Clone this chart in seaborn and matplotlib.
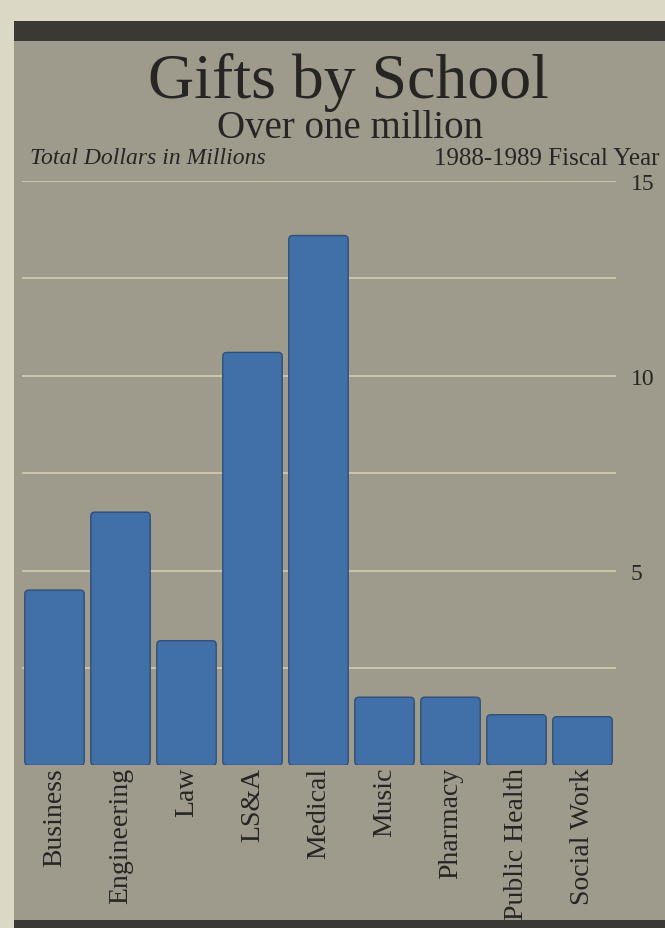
import matplotlib
matplotlib.use("Agg")
import matplotlib.pyplot as plt
from matplotlib.patches import Rectangle, FancyBboxPatch
import seaborn as sns
import pandas as pd

# Gifts over one million dollars, 1988-1989 fiscal year (millions of dollars)
schools = ["Business", "Engineering", "Law", "LS&A", "Medical",
           "Music", "Pharmacy", "Public Health", "Social Work"]
gifts = [4.5, 6.5, 3.2, 10.6, 13.6, 1.75, 1.75, 1.3, 1.25]
labeled_ticks = [5, 10, 15]
grid_steps = [2.5, 7.5, 12.5]

df = pd.DataFrame({"school": schools, "gifts": gifts})

sns.set_theme(style="white")
plt.rcParams["font.family"] = ["Liberation Serif", "DejaVu Serif"]

W, H = 665, 929
fig = plt.figure(figsize=(W / 100, H / 100), dpi=100)
fig.patch.set_facecolor("#dcd8c6")

panel = "#9e9a8c"
ink = "#262524"
bar_color = "#4170a8"
bar_edge = "#2f4f78"


def px_rect(x0, y0, x1, y1, color, z=-5):
    """Rectangle given in pixel coordinates measured from the top-left."""
    fig.patches.append(Rectangle((x0 / W, 1 - y1 / H), (x1 - x0) / W, (y1 - y0) / H,
                                 transform=fig.transFigure, facecolor=color,
                                 edgecolor="none", zorder=z))


px_rect(14, 22, W, H, panel)
px_rect(14, 22, W, 42, "#3a3936", z=-4)
px_rect(14, 921, W, H, "#3a3936", z=-4)

ax_left, ax_right, ax_bottom, ax_top = 21.5, 615.5, 766.4, 182
ax = fig.add_axes([ax_left / W, 1 - ax_bottom / H,
                   (ax_right - ax_left) / W, (ax_bottom - ax_top) / H])
ax.set_facecolor("none")

sns.barplot(data=df, x="school", y="gifts", ax=ax, color=bar_color,
            saturation=1, width=0.9, edgecolor=bar_edge, linewidth=1.0,
            zorder=3)

ax.set_xlim(-0.5, 8.5)
ax.set_ylim(0, 15)

# Give the bars softly rounded corners
px_per_x = (ax_right - ax_left) / 9.0
px_per_y = (ax_bottom - ax_top) / 15.0
corner_px = 4.0
for bar in list(ax.patches):
    x, y = bar.get_x(), bar.get_y()
    w, h = bar.get_width(), bar.get_height()
    rounded = FancyBboxPatch((x, y), w, h,
                             boxstyle=f"round,pad=0,rounding_size={corner_px / px_per_x}",
                             mutation_aspect=px_per_x / px_per_y,
                             facecolor=bar_color, edgecolor=bar_edge,
                             linewidth=1.0, zorder=3)
    bar.remove()
    ax.add_patch(rounded)

ax.yaxis.tick_right()
ax.set_yticks(labeled_ticks)
ax.set_yticks(grid_steps, minor=True)
ax.set_yticklabels([str(v) for v in labeled_ticks], fontsize=17, color=ink)
ax.tick_params(axis="y", which="both", length=0, pad=11)
ax.grid(axis="y", which="both", color="#d9d2b6", linewidth=1.1, zorder=0)
ax.set_axisbelow(True)

ax.set_xticks(range(len(schools)))
ax.set_xticklabels(schools, rotation=90, fontsize=20, color=ink, va="top")
ax.tick_params(axis="x", length=0, pad=1)
ax.set_xlabel("")
ax.set_ylabel("")
for s in ax.spines.values():
    s.set_visible(False)

fig.text(348 / W, 1 - 83 / H, "Gifts by School", ha="center", va="center",
         fontsize=46, color=ink)
fig.text(350 / W, 1 - 129 / H, "Over one million", ha="center", va="center",
         fontsize=28, color=ink)
fig.text(30 / W, 1 - 159 / H, "Total Dollars in Millions", ha="left", va="center",
         fontsize=17, style="italic", color=ink)
fig.text(660 / W, 1 - 159 / H, "1988-1989 Fiscal Year", ha="right", va="center",
         fontsize=18, color=ink)

fig.savefig("out.png", dpi=100, facecolor=fig.get_facecolor())
